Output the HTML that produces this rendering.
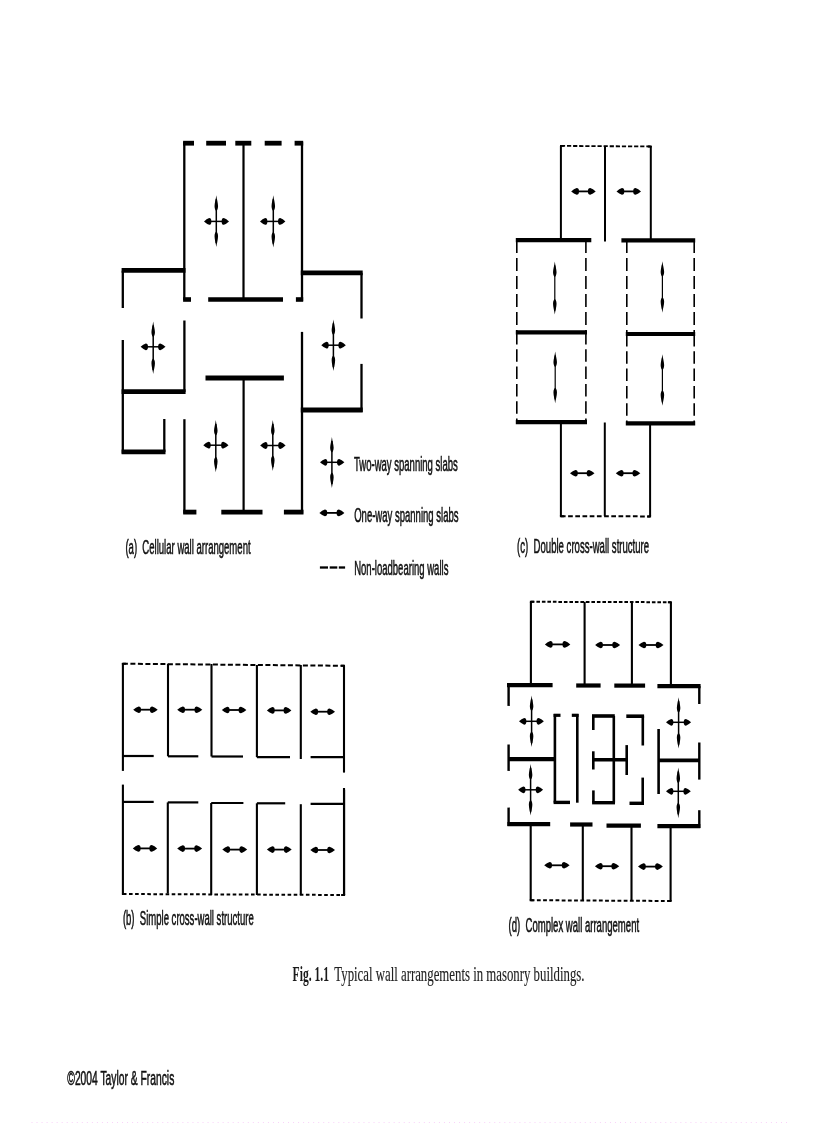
<!DOCTYPE html>
<html><head><meta charset="utf-8"><title>Fig 1.1</title>
<style>
html,body{margin:0;padding:0;background:#fff;}
body{width:816px;height:1123px;overflow:hidden;position:relative;font-family:"Liberation Sans",sans-serif;}
svg{position:absolute;left:0;top:0;will-change:transform;filter:blur(0.35px);}
line{stroke:#000;fill:none;}
.f{fill:#000;stroke:none;}
text{fill:#111;stroke:#111;stroke-width:0.6px;}
text.s{stroke:#222;stroke-width:0.15px;fill:#222;}
</style></head>
<body>
<svg width="816" height="1123" viewBox="0 0 816 1123">
<g>
<line x1="184.3" y1="142" x2="184.3" y2="300" stroke-width="2.3" stroke-linecap="butt"/>
<line x1="243.5" y1="143" x2="243.5" y2="299.5" stroke-width="2.2" stroke-linecap="butt"/>
<line x1="302" y1="142" x2="302" y2="301" stroke-width="2.3" stroke-linecap="butt"/>
<line x1="183.1" y1="143.2" x2="194" y2="143.2" stroke-width="4.8" stroke-linecap="butt"/>
<line x1="206.2" y1="143.2" x2="226" y2="143.2" stroke-width="4.8" stroke-linecap="butt"/>
<line x1="235.3" y1="143.2" x2="251.3" y2="143.2" stroke-width="4.8" stroke-linecap="butt"/>
<line x1="264.7" y1="143.2" x2="281.6" y2="143.2" stroke-width="4.8" stroke-linecap="butt"/>
<line x1="294.6" y1="143.2" x2="303.2" y2="143.2" stroke-width="4.8" stroke-linecap="butt"/>
<line x1="183.1" y1="299.5" x2="191" y2="299.5" stroke-width="4.6" stroke-linecap="butt"/>
<line x1="208.2" y1="299.5" x2="283" y2="299.5" stroke-width="4.6" stroke-linecap="butt"/>
<line x1="295.9" y1="299.5" x2="303.2" y2="299.5" stroke-width="4.6" stroke-linecap="butt"/>
<line x1="121.6" y1="270.4" x2="185.5" y2="270.4" stroke-width="4.8" stroke-linecap="butt"/>
<line x1="122.8" y1="270.7" x2="122.8" y2="308" stroke-width="2.3" stroke-linecap="butt"/>
<line x1="122.8" y1="340" x2="122.8" y2="453.5" stroke-width="2.3" stroke-linecap="butt"/>
<line x1="121.6" y1="391.7" x2="185.6" y2="391.7" stroke-width="4.8" stroke-linecap="butt"/>
<line x1="184.4" y1="320.5" x2="184.4" y2="392" stroke-width="2.3" stroke-linecap="butt"/>
<line x1="121.6" y1="451.8" x2="165.5" y2="451.8" stroke-width="4.8" stroke-linecap="butt"/>
<line x1="164.3" y1="419" x2="164.3" y2="452" stroke-width="2.3" stroke-linecap="butt"/>
<line x1="300.8" y1="272.8" x2="362.7" y2="272.8" stroke-width="4.8" stroke-linecap="butt"/>
<line x1="361.5" y1="272.8" x2="361.5" y2="318.5" stroke-width="2.3" stroke-linecap="butt"/>
<line x1="361.5" y1="363.9" x2="361.5" y2="412" stroke-width="2.3" stroke-linecap="butt"/>
<line x1="300.8" y1="410" x2="362.7" y2="410" stroke-width="4.8" stroke-linecap="butt"/>
<line x1="302" y1="331.9" x2="302" y2="513.5" stroke-width="2.3" stroke-linecap="butt"/>
<line x1="205.5" y1="378" x2="283.9" y2="378" stroke-width="4.8" stroke-linecap="butt"/>
<line x1="243.6" y1="378" x2="243.6" y2="511.8" stroke-width="2.2" stroke-linecap="butt"/>
<line x1="184.4" y1="419.2" x2="184.4" y2="513.5" stroke-width="2.3" stroke-linecap="butt"/>
<line x1="183.2" y1="512.1" x2="196.4" y2="512.1" stroke-width="4.8" stroke-linecap="butt"/>
<line x1="221.3" y1="512.1" x2="262.5" y2="512.1" stroke-width="4.8" stroke-linecap="butt"/>
<line x1="283.9" y1="512.1" x2="303.5" y2="512.1" stroke-width="4.8" stroke-linecap="butt"/>
<line x1="216.3" y1="199.3" x2="216.3" y2="243" stroke-width="1.5" stroke-linecap="butt"/>
<path class="f" d="M216.3 195.3 C216.74 199.18 218.05 203.05 218.05 206.15 C218.05 208.94 217 210.5 216.3 210.8 C215.6 210.5 214.55 208.94 214.55 206.15 C214.55 203.05 215.86 199.18 216.3 195.3Z"/>
<path class="f" d="M216.3 247 C216.74 243.12 218.05 239.25 218.05 236.15 C218.05 233.36 217 231.8 216.3 231.5 C215.6 231.8 214.55 233.36 214.55 236.15 C214.55 239.25 215.86 243.12 216.3 247Z"/>
<line x1="207" y1="221.4" x2="226" y2="221.4" stroke-width="1.5" stroke-linecap="butt"/>
<path class="f" d="M204 221.4 Q206.59 219.02 209.18 218 Q211.4 218 211.4 221.4 Q211.4 224.8 209.18 224.8 Q206.59 223.78 204 221.4Z"/>
<path class="f" d="M229 221.4 Q226.41 219.02 223.82 218 Q221.6 218 221.6 221.4 Q221.6 224.8 223.82 224.8 Q226.41 223.78 229 221.4Z"/>
<line x1="273.3" y1="199.3" x2="273.3" y2="243.6" stroke-width="1.5" stroke-linecap="butt"/>
<path class="f" d="M273.3 195.3 C273.74 199.18 275.05 203.05 275.05 206.15 C275.05 208.94 274 210.5 273.3 210.8 C272.6 210.5 271.55 208.94 271.55 206.15 C271.55 203.05 272.86 199.18 273.3 195.3Z"/>
<path class="f" d="M273.3 247.6 C273.74 243.72 275.05 239.85 275.05 236.75 C275.05 233.96 274 232.4 273.3 232.1 C272.6 232.4 271.55 233.96 271.55 236.75 C271.55 239.85 272.86 243.72 273.3 247.6Z"/>
<line x1="263" y1="221.4" x2="282.4" y2="221.4" stroke-width="1.5" stroke-linecap="butt"/>
<path class="f" d="M260 221.4 Q262.59 219.02 265.18 218 Q267.4 218 267.4 221.4 Q267.4 224.8 265.18 224.8 Q262.59 223.78 260 221.4Z"/>
<path class="f" d="M285.4 221.4 Q282.81 219.02 280.22 218 Q278 218 278 221.4 Q278 224.8 280.22 224.8 Q282.81 223.78 285.4 221.4Z"/>
<line x1="153.2" y1="325.4" x2="153.2" y2="370" stroke-width="1.5" stroke-linecap="butt"/>
<path class="f" d="M153.2 321.4 C153.64 325.27 154.95 329.15 154.95 332.25 C154.95 335.04 153.9 336.6 153.2 336.9 C152.5 336.6 151.45 335.04 151.45 332.25 C151.45 329.15 152.76 325.27 153.2 321.4Z"/>
<path class="f" d="M153.2 374 C153.64 370.12 154.95 366.25 154.95 363.15 C154.95 360.36 153.9 358.8 153.2 358.5 C152.5 358.8 151.45 360.36 151.45 363.15 C151.45 366.25 152.76 370.12 153.2 374Z"/>
<line x1="143.6" y1="346.8" x2="162.5" y2="346.8" stroke-width="1.5" stroke-linecap="butt"/>
<path class="f" d="M140.6 346.8 Q143.19 344.42 145.78 343.4 Q148 343.4 148 346.8 Q148 350.2 145.78 350.2 Q143.19 349.18 140.6 346.8Z"/>
<path class="f" d="M165.5 346.8 Q162.91 344.42 160.32 343.4 Q158.1 343.4 158.1 346.8 Q158.1 350.2 160.32 350.2 Q162.91 349.18 165.5 346.8Z"/>
<line x1="333.4" y1="323.4" x2="333.4" y2="367" stroke-width="1.5" stroke-linecap="butt"/>
<path class="f" d="M333.4 319.4 C333.84 323.27 335.15 327.15 335.15 330.25 C335.15 333.04 334.1 334.6 333.4 334.9 C332.7 334.6 331.65 333.04 331.65 330.25 C331.65 327.15 332.96 323.27 333.4 319.4Z"/>
<path class="f" d="M333.4 371 C333.84 367.12 335.15 363.25 335.15 360.15 C335.15 357.36 334.1 355.8 333.4 355.5 C332.7 355.8 331.65 357.36 331.65 360.15 C331.65 363.25 332.96 367.12 333.4 371Z"/>
<line x1="324.3" y1="345.2" x2="342.8" y2="345.2" stroke-width="1.5" stroke-linecap="butt"/>
<path class="f" d="M321.3 345.2 Q323.89 342.82 326.48 341.8 Q328.7 341.8 328.7 345.2 Q328.7 348.6 326.48 348.6 Q323.89 347.58 321.3 345.2Z"/>
<path class="f" d="M345.8 345.2 Q343.21 342.82 340.62 341.8 Q338.4 341.8 338.4 345.2 Q338.4 348.6 340.62 348.6 Q343.21 347.58 345.8 345.2Z"/>
<line x1="215.8" y1="424" x2="215.8" y2="468.3" stroke-width="1.5" stroke-linecap="butt"/>
<path class="f" d="M215.8 420 C216.24 423.88 217.55 427.75 217.55 430.85 C217.55 433.64 216.5 435.2 215.8 435.5 C215.1 435.2 214.05 433.64 214.05 430.85 C214.05 427.75 215.36 423.88 215.8 420Z"/>
<path class="f" d="M215.8 472.3 C216.24 468.43 217.55 464.55 217.55 461.45 C217.55 458.66 216.5 457.1 215.8 456.8 C215.1 457.1 214.05 458.66 214.05 461.45 C214.05 464.55 215.36 468.43 215.8 472.3Z"/>
<line x1="206.3" y1="445.2" x2="225.5" y2="445.2" stroke-width="1.5" stroke-linecap="butt"/>
<path class="f" d="M203.3 445.2 Q205.89 442.82 208.48 441.8 Q210.7 441.8 210.7 445.2 Q210.7 448.6 208.48 448.6 Q205.89 447.58 203.3 445.2Z"/>
<path class="f" d="M228.5 445.2 Q225.91 442.82 223.32 441.8 Q221.1 441.8 221.1 445.2 Q221.1 448.6 223.32 448.6 Q225.91 447.58 228.5 445.2Z"/>
<line x1="272.8" y1="424" x2="272.8" y2="467" stroke-width="1.5" stroke-linecap="butt"/>
<path class="f" d="M272.8 420 C273.24 423.88 274.55 427.75 274.55 430.85 C274.55 433.64 273.5 435.2 272.8 435.5 C272.1 435.2 271.05 433.64 271.05 430.85 C271.05 427.75 272.36 423.88 272.8 420Z"/>
<path class="f" d="M272.8 471 C273.24 467.12 274.55 463.25 274.55 460.15 C274.55 457.36 273.5 455.8 272.8 455.5 C272.1 455.8 271.05 457.36 271.05 460.15 C271.05 463.25 272.36 467.12 272.8 471Z"/>
<line x1="263.2" y1="445.5" x2="282.6" y2="445.5" stroke-width="1.5" stroke-linecap="butt"/>
<path class="f" d="M260.2 445.5 Q262.79 443.12 265.38 442.1 Q267.6 442.1 267.6 445.5 Q267.6 448.9 265.38 448.9 Q262.79 447.88 260.2 445.5Z"/>
<path class="f" d="M285.6 445.5 Q283.01 443.12 280.42 442.1 Q278.2 442.1 278.2 445.5 Q278.2 448.9 280.42 448.9 Q283.01 447.88 285.6 445.5Z"/>
<line x1="331.9" y1="441" x2="331.9" y2="484" stroke-width="1.5" stroke-linecap="butt"/>
<path class="f" d="M331.9 437 C332.34 440.88 333.65 444.75 333.65 447.85 C333.65 450.64 332.6 452.2 331.9 452.5 C331.2 452.2 330.15 450.64 330.15 447.85 C330.15 444.75 331.46 440.88 331.9 437Z"/>
<path class="f" d="M331.9 488 C332.34 484.12 333.65 480.25 333.65 477.15 C333.65 474.36 332.6 472.8 331.9 472.5 C331.2 472.8 330.15 474.36 330.15 477.15 C330.15 480.25 331.46 484.12 331.9 488Z"/>
<line x1="323" y1="462.3" x2="341.4" y2="462.3" stroke-width="1.5" stroke-linecap="butt"/>
<path class="f" d="M320 462.3 Q322.59 459.92 325.18 458.9 Q327.4 458.9 327.4 462.3 Q327.4 465.7 325.18 465.7 Q322.59 464.68 320 462.3Z"/>
<path class="f" d="M344.4 462.3 Q341.81 459.92 339.22 458.9 Q337 458.9 337 462.3 Q337 465.7 339.22 465.7 Q341.81 464.68 344.4 462.3Z"/>
<line x1="322.4" y1="512.9" x2="341.4" y2="512.9" stroke-width="1.8" stroke-linecap="butt"/>
<path class="f" d="M319.4 512.9 Q322.13 510.59 324.86 509.6 Q327.2 509.6 327.2 512.9 Q327.2 516.2 324.86 516.2 Q322.13 515.21 319.4 512.9Z"/>
<path class="f" d="M344.4 512.9 Q341.67 510.59 338.94 509.6 Q336.6 509.6 336.6 512.9 Q336.6 516.2 338.94 516.2 Q341.67 515.21 344.4 512.9Z"/>
<line x1="319.9" y1="567.5" x2="328" y2="567.5" stroke-width="2.3" stroke-linecap="butt"/>
<line x1="329.7" y1="567.5" x2="337.3" y2="567.5" stroke-width="2.3" stroke-linecap="butt"/>
<line x1="338.8" y1="567.5" x2="345.1" y2="567.5" stroke-width="2.3" stroke-linecap="butt"/>
<line x1="560.9" y1="146" x2="560.9" y2="240" stroke-width="2" stroke-linecap="butt"/>
<line x1="605" y1="146" x2="605" y2="241.6" stroke-width="2" stroke-linecap="butt"/>
<line x1="650.8" y1="146" x2="650.8" y2="240" stroke-width="2" stroke-linecap="butt"/>
<line x1="560.9" y1="145.9" x2="650.8" y2="146.5" stroke-width="1.8" stroke-dasharray="4.2 1.9" stroke-dashoffset="0"/>
<line x1="560" y1="145.89" x2="563.9" y2="145.92" stroke-width="1.8" stroke-linecap="butt"/>
<line x1="651.7" y1="146.51" x2="647.8" y2="146.48" stroke-width="1.8" stroke-linecap="butt"/>
<line x1="574.2" y1="191.4" x2="592.7" y2="191.4" stroke-width="1.8" stroke-linecap="butt"/>
<path class="f" d="M571.2 191.4 Q573.93 189.09 576.66 188.1 Q579 188.1 579 191.4 Q579 194.7 576.66 194.7 Q573.93 193.71 571.2 191.4Z"/>
<path class="f" d="M595.7 191.4 Q592.97 189.09 590.24 188.1 Q587.9 188.1 587.9 191.4 Q587.9 194.7 590.24 194.7 Q592.97 193.71 595.7 191.4Z"/>
<line x1="619.5" y1="191.4" x2="638" y2="191.4" stroke-width="1.8" stroke-linecap="butt"/>
<path class="f" d="M616.5 191.4 Q619.23 189.09 621.96 188.1 Q624.3 188.1 624.3 191.4 Q624.3 194.7 621.96 194.7 Q619.23 193.71 616.5 191.4Z"/>
<path class="f" d="M641 191.4 Q638.27 189.09 635.54 188.1 Q633.2 188.1 633.2 191.4 Q633.2 194.7 635.54 194.7 Q638.27 193.71 641 191.4Z"/>
<line x1="515.8" y1="240.1" x2="591.3" y2="240.1" stroke-width="4.2" stroke-linecap="butt"/>
<line x1="621.4" y1="240.3" x2="695.2" y2="240.3" stroke-width="4.2" stroke-linecap="butt"/>
<line x1="516.8" y1="240" x2="516.8" y2="332" stroke-width="1.6" stroke-dasharray="13 5" stroke-dashoffset="0"/>
<line x1="516.8" y1="332" x2="516.8" y2="422" stroke-width="1.6" stroke-dasharray="12.5 4.8" stroke-dashoffset="0"/>
<line x1="585.9" y1="240" x2="585.9" y2="332" stroke-width="1.6" stroke-dasharray="13 5" stroke-dashoffset="0"/>
<line x1="585.9" y1="332" x2="585.9" y2="422" stroke-width="1.6" stroke-dasharray="12.5 4.8" stroke-dashoffset="0"/>
<line x1="626.8" y1="240" x2="626.8" y2="334" stroke-width="1.6" stroke-dasharray="13 5" stroke-dashoffset="0"/>
<line x1="626.8" y1="334" x2="626.8" y2="423.4" stroke-width="1.6" stroke-dasharray="12.5 4.8" stroke-dashoffset="0"/>
<line x1="694.2" y1="240" x2="694.2" y2="334" stroke-width="1.6" stroke-dasharray="13 5" stroke-dashoffset="0"/>
<line x1="694.2" y1="334" x2="694.2" y2="423.4" stroke-width="1.6" stroke-dasharray="12.5 4.8" stroke-dashoffset="0"/>
<line x1="515.8" y1="332.3" x2="587" y2="332.3" stroke-width="4.2" stroke-linecap="butt"/>
<line x1="625.8" y1="334" x2="695.2" y2="334" stroke-width="4.2" stroke-linecap="butt"/>
<line x1="515.8" y1="422.2" x2="587" y2="422.2" stroke-width="4.2" stroke-linecap="butt"/>
<line x1="625.8" y1="423.4" x2="695.2" y2="423.4" stroke-width="4.2" stroke-linecap="butt"/>
<line x1="554.8" y1="265.4" x2="554.8" y2="310.6" stroke-width="1.2" stroke-linecap="butt"/>
<path class="f" d="M554.8 261.4 C555.24 265.27 556.55 269.15 556.55 272.25 C556.55 275.04 555.5 276.6 554.8 276.9 C554.1 276.6 553.05 275.04 553.05 272.25 C553.05 269.15 554.36 265.27 554.8 261.4Z"/>
<path class="f" d="M554.8 314.6 C555.24 310.73 556.55 306.85 556.55 303.75 C556.55 300.96 555.5 299.4 554.8 299.1 C554.1 299.4 553.05 300.96 553.05 303.75 C553.05 306.85 554.36 310.73 554.8 314.6Z"/>
<line x1="662.4" y1="265.2" x2="662.4" y2="308.7" stroke-width="1.2" stroke-linecap="butt"/>
<path class="f" d="M662.4 261.2 C662.84 265.07 664.15 268.95 664.15 272.05 C664.15 274.84 663.1 276.4 662.4 276.7 C661.7 276.4 660.65 274.84 660.65 272.05 C660.65 268.95 661.96 265.07 662.4 261.2Z"/>
<path class="f" d="M662.4 312.7 C662.84 308.82 664.15 304.95 664.15 301.85 C664.15 299.06 663.1 297.5 662.4 297.2 C661.7 297.5 660.65 299.06 660.65 301.85 C660.65 304.95 661.96 308.82 662.4 312.7Z"/>
<line x1="555.2" y1="355.4" x2="555.2" y2="399.3" stroke-width="1.2" stroke-linecap="butt"/>
<path class="f" d="M555.2 351.4 C555.64 355.27 556.95 359.15 556.95 362.25 C556.95 365.04 555.9 366.6 555.2 366.9 C554.5 366.6 553.45 365.04 553.45 362.25 C553.45 359.15 554.76 355.27 555.2 351.4Z"/>
<path class="f" d="M555.2 403.3 C555.64 399.43 556.95 395.55 556.95 392.45 C556.95 389.66 555.9 388.1 555.2 387.8 C554.5 388.1 553.45 389.66 553.45 392.45 C553.45 395.55 554.76 399.43 555.2 403.3Z"/>
<line x1="662.4" y1="358.3" x2="662.4" y2="401.8" stroke-width="1.2" stroke-linecap="butt"/>
<path class="f" d="M662.4 354.3 C662.84 358.18 664.15 362.05 664.15 365.15 C664.15 367.94 663.1 369.5 662.4 369.8 C661.7 369.5 660.65 367.94 660.65 365.15 C660.65 362.05 661.96 358.18 662.4 354.3Z"/>
<path class="f" d="M662.4 405.8 C662.84 401.93 664.15 398.05 664.15 394.95 C664.15 392.16 663.1 390.6 662.4 390.3 C661.7 390.6 660.65 392.16 660.65 394.95 C660.65 398.05 661.96 401.93 662.4 405.8Z"/>
<line x1="560.9" y1="422" x2="560.9" y2="516" stroke-width="2" stroke-linecap="butt"/>
<line x1="604.8" y1="422.5" x2="604.8" y2="516" stroke-width="2" stroke-linecap="butt"/>
<line x1="650.1" y1="423" x2="650.1" y2="516" stroke-width="2" stroke-linecap="butt"/>
<line x1="560.9" y1="516.2" x2="650.1" y2="516.4" stroke-width="2" stroke-dasharray="4.7 2.5" stroke-dashoffset="0"/>
<line x1="559.9" y1="516.2" x2="563.9" y2="516.21" stroke-width="2" stroke-linecap="butt"/>
<line x1="651.1" y1="516.4" x2="647.1" y2="516.39" stroke-width="2" stroke-linecap="butt"/>
<line x1="573" y1="473.2" x2="591.5" y2="473.2" stroke-width="1.8" stroke-linecap="butt"/>
<path class="f" d="M570 473.2 Q572.73 470.89 575.46 469.9 Q577.8 469.9 577.8 473.2 Q577.8 476.5 575.46 476.5 Q572.73 475.51 570 473.2Z"/>
<path class="f" d="M594.5 473.2 Q591.77 470.89 589.04 469.9 Q586.7 469.9 586.7 473.2 Q586.7 476.5 589.04 476.5 Q591.77 475.51 594.5 473.2Z"/>
<line x1="618.8" y1="473.2" x2="637.3" y2="473.2" stroke-width="1.8" stroke-linecap="butt"/>
<path class="f" d="M615.8 473.2 Q618.53 470.89 621.26 469.9 Q623.6 469.9 623.6 473.2 Q623.6 476.5 621.26 476.5 Q618.53 475.51 615.8 473.2Z"/>
<path class="f" d="M640.3 473.2 Q637.57 470.89 634.84 469.9 Q632.5 469.9 632.5 473.2 Q632.5 476.5 634.84 476.5 Q637.57 475.51 640.3 473.2Z"/>
<line x1="122.9" y1="663.7" x2="344" y2="665.8" stroke-width="2" stroke-dasharray="5 2.5" stroke-dashoffset="0"/>
<line x1="121.9" y1="663.69" x2="125.9" y2="663.73" stroke-width="2" stroke-linecap="butt"/>
<line x1="345" y1="665.81" x2="341" y2="665.77" stroke-width="2" stroke-linecap="butt"/>
<line x1="122.9" y1="663" x2="122.9" y2="770.9" stroke-width="2.1" stroke-linecap="butt"/>
<line x1="122.9" y1="784.6" x2="122.9" y2="893.4" stroke-width="2.1" stroke-linecap="butt"/>
<line x1="168" y1="663.7" x2="168" y2="756.3" stroke-width="2.1" stroke-linecap="butt"/>
<line x1="168" y1="756.3" x2="198.3" y2="756.3" stroke-width="2.2" stroke-linecap="butt"/>
<line x1="211.5" y1="664" x2="211.5" y2="756.5" stroke-width="2.1" stroke-linecap="butt"/>
<line x1="211.5" y1="756.5" x2="243" y2="756.5" stroke-width="2.2" stroke-linecap="butt"/>
<line x1="256.9" y1="665" x2="256.9" y2="757.2" stroke-width="2.1" stroke-linecap="butt"/>
<line x1="256.9" y1="757.2" x2="290" y2="757.2" stroke-width="2.2" stroke-linecap="butt"/>
<line x1="300.8" y1="665" x2="300.8" y2="759" stroke-width="2.1" stroke-linecap="butt"/>
<line x1="344" y1="665.8" x2="344" y2="772.6" stroke-width="2.1" stroke-linecap="butt"/>
<line x1="344" y1="788" x2="344" y2="895" stroke-width="2.1" stroke-linecap="butt"/>
<line x1="122.9" y1="756" x2="153.7" y2="756" stroke-width="2.2" stroke-linecap="butt"/>
<line x1="310.6" y1="757.2" x2="344" y2="757.2" stroke-width="2.2" stroke-linecap="butt"/>
<line x1="136.2" y1="709.7" x2="154.7" y2="709.7" stroke-width="1.8" stroke-linecap="butt"/>
<path class="f" d="M133.2 709.7 Q135.93 707.39 138.66 706.4 Q141 706.4 141 709.7 Q141 713 138.66 713 Q135.93 712.01 133.2 709.7Z"/>
<path class="f" d="M157.7 709.7 Q154.97 707.39 152.24 706.4 Q149.9 706.4 149.9 709.7 Q149.9 713 152.24 713 Q154.97 712.01 157.7 709.7Z"/>
<line x1="180.2" y1="709.7" x2="199.3" y2="709.7" stroke-width="1.8" stroke-linecap="butt"/>
<path class="f" d="M177.2 709.7 Q179.93 707.39 182.66 706.4 Q185 706.4 185 709.7 Q185 713 182.66 713 Q179.93 712.01 177.2 709.7Z"/>
<path class="f" d="M202.3 709.7 Q199.57 707.39 196.84 706.4 Q194.5 706.4 194.5 709.7 Q194.5 713 196.84 713 Q199.57 712.01 202.3 709.7Z"/>
<line x1="224.8" y1="710" x2="243.4" y2="710" stroke-width="1.8" stroke-linecap="butt"/>
<path class="f" d="M221.8 710 Q224.53 707.69 227.26 706.7 Q229.6 706.7 229.6 710 Q229.6 713.3 227.26 713.3 Q224.53 712.31 221.8 710Z"/>
<path class="f" d="M246.4 710 Q243.67 707.69 240.94 706.7 Q238.6 706.7 238.6 710 Q238.6 713.3 240.94 713.3 Q243.67 712.31 246.4 710Z"/>
<line x1="269.9" y1="710.4" x2="288.4" y2="710.4" stroke-width="1.8" stroke-linecap="butt"/>
<path class="f" d="M266.9 710.4 Q269.63 708.09 272.36 707.1 Q274.7 707.1 274.7 710.4 Q274.7 713.7 272.36 713.7 Q269.63 712.71 266.9 710.4Z"/>
<path class="f" d="M291.4 710.4 Q288.67 708.09 285.94 707.1 Q283.6 707.1 283.6 710.4 Q283.6 713.7 285.94 713.7 Q288.67 712.71 291.4 710.4Z"/>
<line x1="313.3" y1="711.7" x2="332" y2="711.7" stroke-width="1.8" stroke-linecap="butt"/>
<path class="f" d="M310.3 711.7 Q313.03 709.39 315.76 708.4 Q318.1 708.4 318.1 711.7 Q318.1 715 315.76 715 Q313.03 714.01 310.3 711.7Z"/>
<path class="f" d="M335 711.7 Q332.27 709.39 329.54 708.4 Q327.2 708.4 327.2 711.7 Q327.2 715 329.54 715 Q332.27 714.01 335 711.7Z"/>
<line x1="122.9" y1="801.9" x2="153.7" y2="801.9" stroke-width="2.2" stroke-linecap="butt"/>
<line x1="167.8" y1="802.4" x2="167.8" y2="893.4" stroke-width="2.1" stroke-linecap="butt"/>
<line x1="167.8" y1="802.4" x2="198.3" y2="802.4" stroke-width="2.2" stroke-linecap="butt"/>
<line x1="211.2" y1="803" x2="211.2" y2="895" stroke-width="2.1" stroke-linecap="butt"/>
<line x1="211.2" y1="803" x2="243.4" y2="803" stroke-width="2.2" stroke-linecap="butt"/>
<line x1="256.9" y1="803.3" x2="256.9" y2="895" stroke-width="2.1" stroke-linecap="butt"/>
<line x1="256.9" y1="803.3" x2="285.2" y2="803.3" stroke-width="2.2" stroke-linecap="butt"/>
<line x1="300.8" y1="804.2" x2="300.8" y2="895" stroke-width="2.1" stroke-linecap="butt"/>
<line x1="344.1" y1="789.6" x2="344.1" y2="895" stroke-width="2.1" stroke-linecap="butt"/>
<line x1="310.6" y1="803.8" x2="344.1" y2="803.8" stroke-width="2.2" stroke-linecap="butt"/>
<line x1="122.9" y1="894" x2="344.1" y2="895" stroke-width="2" stroke-dasharray="3.6 2.5" stroke-dashoffset="0"/>
<line x1="121.9" y1="894" x2="125.9" y2="894.01" stroke-width="2" stroke-linecap="butt"/>
<line x1="345.1" y1="895" x2="341.1" y2="894.99" stroke-width="2" stroke-linecap="butt"/>
<line x1="135.8" y1="848.4" x2="154.2" y2="848.4" stroke-width="1.8" stroke-linecap="butt"/>
<path class="f" d="M132.8 848.4 Q135.53 846.09 138.26 845.1 Q140.6 845.1 140.6 848.4 Q140.6 851.7 138.26 851.7 Q135.53 850.71 132.8 848.4Z"/>
<path class="f" d="M157.2 848.4 Q154.47 846.09 151.74 845.1 Q149.4 845.1 149.4 848.4 Q149.4 851.7 151.74 851.7 Q154.47 850.71 157.2 848.4Z"/>
<line x1="180.2" y1="848.6" x2="199.1" y2="848.6" stroke-width="1.8" stroke-linecap="butt"/>
<path class="f" d="M177.2 848.6 Q179.93 846.29 182.66 845.3 Q185 845.3 185 848.6 Q185 851.9 182.66 851.9 Q179.93 850.91 177.2 848.6Z"/>
<path class="f" d="M202.1 848.6 Q199.37 846.29 196.64 845.3 Q194.3 845.3 194.3 848.6 Q194.3 851.9 196.64 851.9 Q199.37 850.91 202.1 848.6Z"/>
<line x1="225.3" y1="849.6" x2="244.2" y2="849.6" stroke-width="1.8" stroke-linecap="butt"/>
<path class="f" d="M222.3 849.6 Q225.03 847.29 227.76 846.3 Q230.1 846.3 230.1 849.6 Q230.1 852.9 227.76 852.9 Q225.03 851.91 222.3 849.6Z"/>
<path class="f" d="M247.2 849.6 Q244.47 847.29 241.74 846.3 Q239.4 846.3 239.4 849.6 Q239.4 852.9 241.74 852.9 Q244.47 851.91 247.2 849.6Z"/>
<line x1="269.9" y1="849.6" x2="288.7" y2="849.6" stroke-width="1.8" stroke-linecap="butt"/>
<path class="f" d="M266.9 849.6 Q269.63 847.29 272.36 846.3 Q274.7 846.3 274.7 849.6 Q274.7 852.9 272.36 852.9 Q269.63 851.91 266.9 849.6Z"/>
<path class="f" d="M291.7 849.6 Q288.97 847.29 286.24 846.3 Q283.9 846.3 283.9 849.6 Q283.9 852.9 286.24 852.9 Q288.97 851.91 291.7 849.6Z"/>
<line x1="313.3" y1="850" x2="332" y2="850" stroke-width="1.8" stroke-linecap="butt"/>
<path class="f" d="M310.3 850 Q313.03 847.69 315.76 846.7 Q318.1 846.7 318.1 850 Q318.1 853.3 315.76 853.3 Q313.03 852.31 310.3 850Z"/>
<path class="f" d="M335 850 Q332.27 847.69 329.54 846.7 Q327.2 846.7 327.2 850 Q327.2 853.3 329.54 853.3 Q332.27 852.31 335 850Z"/>
<line x1="530.9" y1="601.8" x2="670.9" y2="602.2" stroke-width="2" stroke-dasharray="3.6 1.9" stroke-dashoffset="0"/>
<line x1="529.9" y1="601.8" x2="533.9" y2="601.81" stroke-width="2" stroke-linecap="butt"/>
<line x1="671.9" y1="602.2" x2="667.9" y2="602.19" stroke-width="2" stroke-linecap="butt"/>
<line x1="530.9" y1="601.8" x2="530.9" y2="685" stroke-width="2.1" stroke-linecap="butt"/>
<line x1="584.6" y1="601.8" x2="584.6" y2="685" stroke-width="2.1" stroke-linecap="butt"/>
<line x1="631.9" y1="602" x2="631.9" y2="685" stroke-width="2.1" stroke-linecap="butt"/>
<line x1="670.9" y1="602" x2="670.9" y2="686" stroke-width="2.1" stroke-linecap="butt"/>
<line x1="547.9" y1="644.4" x2="567.3" y2="644.4" stroke-width="1.8" stroke-linecap="butt"/>
<path class="f" d="M544.9 644.4 Q547.63 642.09 550.36 641.1 Q552.7 641.1 552.7 644.4 Q552.7 647.7 550.36 647.7 Q547.63 646.71 544.9 644.4Z"/>
<path class="f" d="M570.3 644.4 Q567.57 642.09 564.84 641.1 Q562.5 641.1 562.5 644.4 Q562.5 647.7 564.84 647.7 Q567.57 646.71 570.3 644.4Z"/>
<line x1="598.1" y1="645" x2="617.1" y2="645" stroke-width="1.8" stroke-linecap="butt"/>
<path class="f" d="M595.1 645 Q597.83 642.69 600.56 641.7 Q602.9 641.7 602.9 645 Q602.9 648.3 600.56 648.3 Q597.83 647.31 595.1 645Z"/>
<path class="f" d="M620.1 645 Q617.37 642.69 614.64 641.7 Q612.3 641.7 612.3 645 Q612.3 648.3 614.64 648.3 Q617.37 647.31 620.1 645Z"/>
<line x1="641.5" y1="645" x2="660.5" y2="645" stroke-width="1.8" stroke-linecap="butt"/>
<path class="f" d="M638.5 645 Q641.23 642.69 643.96 641.7 Q646.3 641.7 646.3 645 Q646.3 648.3 643.96 648.3 Q641.23 647.31 638.5 645Z"/>
<path class="f" d="M663.5 645 Q660.77 642.69 658.04 641.7 Q655.7 641.7 655.7 645 Q655.7 648.3 658.04 648.3 Q660.77 647.31 663.5 645Z"/>
<line x1="507" y1="685.2" x2="552.6" y2="685.2" stroke-width="4.2" stroke-linecap="butt"/>
<line x1="576.2" y1="685.5" x2="600.6" y2="685.5" stroke-width="4.2" stroke-linecap="butt"/>
<line x1="614.3" y1="685.6" x2="645.1" y2="685.6" stroke-width="4.2" stroke-linecap="butt"/>
<line x1="657.4" y1="686.2" x2="700.6" y2="686.2" stroke-width="4.2" stroke-linecap="butt"/>
<line x1="508.6" y1="684" x2="508.6" y2="705.9" stroke-width="2.4" stroke-linecap="butt"/>
<line x1="508.6" y1="744.5" x2="508.6" y2="770.9" stroke-width="2.4" stroke-linecap="butt"/>
<line x1="508.6" y1="807.6" x2="508.6" y2="826" stroke-width="2.4" stroke-linecap="butt"/>
<line x1="699.3" y1="686" x2="699.3" y2="704" stroke-width="2.4" stroke-linecap="butt"/>
<line x1="699.3" y1="742.5" x2="699.3" y2="779.6" stroke-width="2.4" stroke-linecap="butt"/>
<line x1="699.3" y1="810.2" x2="699.3" y2="828" stroke-width="2.4" stroke-linecap="butt"/>
<line x1="508.6" y1="759.2" x2="554.5" y2="759.2" stroke-width="4.2" stroke-linecap="butt"/>
<line x1="658.6" y1="760.4" x2="699.3" y2="760.4" stroke-width="3.6" stroke-linecap="butt"/>
<line x1="554.9" y1="714" x2="554.9" y2="802.7" stroke-width="2.6" stroke-linecap="butt"/>
<line x1="553.6" y1="715.3" x2="560.5" y2="715.3" stroke-width="3.2" stroke-linecap="butt"/>
<line x1="553.6" y1="802.4" x2="570" y2="802.4" stroke-width="3.4" stroke-linecap="butt"/>
<line x1="577.3" y1="714" x2="577.3" y2="802.7" stroke-width="2.6" stroke-linecap="butt"/>
<line x1="571.8" y1="715.3" x2="578.6" y2="715.3" stroke-width="3.2" stroke-linecap="butt"/>
<line x1="592" y1="716" x2="614.8" y2="716" stroke-width="3.6" stroke-linecap="butt"/>
<line x1="593.3" y1="716" x2="593.3" y2="730" stroke-width="2.6" stroke-linecap="butt"/>
<line x1="613.8" y1="716" x2="613.8" y2="802.7" stroke-width="2.6" stroke-linecap="butt"/>
<line x1="593.3" y1="759.8" x2="626.6" y2="759.8" stroke-width="3.4" stroke-linecap="butt"/>
<line x1="593.3" y1="751.3" x2="593.3" y2="769.5" stroke-width="2.6" stroke-linecap="butt"/>
<line x1="626.7" y1="745.1" x2="626.7" y2="775" stroke-width="2.6" stroke-linecap="butt"/>
<line x1="593.4" y1="790.4" x2="593.4" y2="802.7" stroke-width="2.6" stroke-linecap="butt"/>
<line x1="592.1" y1="802.7" x2="615" y2="802.7" stroke-width="3.4" stroke-linecap="butt"/>
<line x1="626.3" y1="716.2" x2="644.1" y2="716.2" stroke-width="3.6" stroke-linecap="butt"/>
<line x1="642.8" y1="716" x2="642.8" y2="745.5" stroke-width="2.6" stroke-linecap="butt"/>
<line x1="642.7" y1="777.6" x2="642.7" y2="803.7" stroke-width="2.6" stroke-linecap="butt"/>
<line x1="629.5" y1="803.3" x2="644" y2="803.3" stroke-width="3.4" stroke-linecap="butt"/>
<line x1="658.6" y1="729" x2="658.6" y2="794" stroke-width="2.6" stroke-linecap="butt"/>
<line x1="531.6" y1="699.5" x2="531.6" y2="743" stroke-width="1.5" stroke-linecap="butt"/>
<path class="f" d="M531.6 695.5 C532.04 699.38 533.35 703.25 533.35 706.35 C533.35 709.14 532.3 710.7 531.6 711 C530.9 710.7 529.85 709.14 529.85 706.35 C529.85 703.25 531.16 699.38 531.6 695.5Z"/>
<path class="f" d="M531.6 747 C532.04 743.12 533.35 739.25 533.35 736.15 C533.35 733.36 532.3 731.8 531.6 731.5 C530.9 731.8 529.85 733.36 529.85 736.15 C529.85 739.25 531.16 743.12 531.6 747Z"/>
<line x1="522" y1="721.3" x2="540.9" y2="721.3" stroke-width="1.5" stroke-linecap="butt"/>
<path class="f" d="M519 721.3 Q521.59 718.92 524.18 717.9 Q526.4 717.9 526.4 721.3 Q526.4 724.7 524.18 724.7 Q521.59 723.68 519 721.3Z"/>
<path class="f" d="M543.9 721.3 Q541.31 718.92 538.72 717.9 Q536.5 717.9 536.5 721.3 Q536.5 724.7 538.72 724.7 Q541.31 723.68 543.9 721.3Z"/>
<line x1="530.6" y1="768.1" x2="530.6" y2="811.6" stroke-width="1.5" stroke-linecap="butt"/>
<path class="f" d="M530.6 764.1 C531.04 767.98 532.35 771.85 532.35 774.95 C532.35 777.74 531.3 779.3 530.6 779.6 C529.9 779.3 528.85 777.74 528.85 774.95 C528.85 771.85 530.16 767.98 530.6 764.1Z"/>
<path class="f" d="M530.6 815.6 C531.04 811.73 532.35 807.85 532.35 804.75 C532.35 801.96 531.3 800.4 530.6 800.1 C529.9 800.4 528.85 801.96 528.85 804.75 C528.85 807.85 530.16 811.73 530.6 815.6Z"/>
<line x1="521.1" y1="789.8" x2="540.1" y2="789.8" stroke-width="1.5" stroke-linecap="butt"/>
<path class="f" d="M518.1 789.8 Q520.69 787.42 523.28 786.4 Q525.5 786.4 525.5 789.8 Q525.5 793.2 523.28 793.2 Q520.69 792.18 518.1 789.8Z"/>
<path class="f" d="M543.1 789.8 Q540.51 787.42 537.92 786.4 Q535.7 786.4 535.7 789.8 Q535.7 793.2 537.92 793.2 Q540.51 792.18 543.1 789.8Z"/>
<line x1="678.6" y1="701.2" x2="678.6" y2="744.6" stroke-width="1.5" stroke-linecap="butt"/>
<path class="f" d="M678.6 697.2 C679.04 701.08 680.35 704.95 680.35 708.05 C680.35 710.84 679.3 712.4 678.6 712.7 C677.9 712.4 676.85 710.84 676.85 708.05 C676.85 704.95 678.16 701.08 678.6 697.2Z"/>
<path class="f" d="M678.6 748.6 C679.04 744.73 680.35 740.85 680.35 737.75 C680.35 734.96 679.3 733.4 678.6 733.1 C677.9 733.4 676.85 734.96 676.85 737.75 C676.85 740.85 678.16 744.73 678.6 748.6Z"/>
<line x1="669" y1="722.3" x2="688.1" y2="722.3" stroke-width="1.5" stroke-linecap="butt"/>
<path class="f" d="M666 722.3 Q668.59 719.92 671.18 718.9 Q673.4 718.9 673.4 722.3 Q673.4 725.7 671.18 725.7 Q668.59 724.68 666 722.3Z"/>
<path class="f" d="M691.1 722.3 Q688.51 719.92 685.92 718.9 Q683.7 718.9 683.7 722.3 Q683.7 725.7 685.92 725.7 Q688.51 724.68 691.1 722.3Z"/>
<line x1="678.3" y1="771.6" x2="678.3" y2="814.2" stroke-width="1.5" stroke-linecap="butt"/>
<path class="f" d="M678.3 767.6 C678.74 771.48 680.05 775.35 680.05 778.45 C680.05 781.24 679 782.8 678.3 783.1 C677.6 782.8 676.55 781.24 676.55 778.45 C676.55 775.35 677.86 771.48 678.3 767.6Z"/>
<path class="f" d="M678.3 818.2 C678.74 814.33 680.05 810.45 680.05 807.35 C680.05 804.56 679 803 678.3 802.7 C677.6 803 676.55 804.56 676.55 807.35 C676.55 810.45 677.86 814.33 678.3 818.2Z"/>
<line x1="669" y1="791.3" x2="687.8" y2="791.3" stroke-width="1.5" stroke-linecap="butt"/>
<path class="f" d="M666 791.3 Q668.59 788.92 671.18 787.9 Q673.4 787.9 673.4 791.3 Q673.4 794.7 671.18 794.7 Q668.59 793.68 666 791.3Z"/>
<path class="f" d="M690.8 791.3 Q688.21 788.92 685.62 787.9 Q683.4 787.9 683.4 791.3 Q683.4 794.7 685.62 794.7 Q688.21 793.68 690.8 791.3Z"/>
<line x1="507.4" y1="824.1" x2="550.2" y2="824.1" stroke-width="4.2" stroke-linecap="butt"/>
<line x1="570.1" y1="824.5" x2="592.5" y2="824.5" stroke-width="4.2" stroke-linecap="butt"/>
<line x1="606.5" y1="825.7" x2="640.9" y2="825.7" stroke-width="4.2" stroke-linecap="butt"/>
<line x1="657.4" y1="826.2" x2="700.3" y2="826.2" stroke-width="4.2" stroke-linecap="butt"/>
<line x1="530.7" y1="824" x2="530.7" y2="900.5" stroke-width="2.1" stroke-linecap="butt"/>
<line x1="582.8" y1="824" x2="582.8" y2="900.5" stroke-width="2.1" stroke-linecap="butt"/>
<line x1="631.5" y1="825.7" x2="631.5" y2="901" stroke-width="2.1" stroke-linecap="butt"/>
<line x1="670.6" y1="826" x2="670.6" y2="901.2" stroke-width="2.1" stroke-linecap="butt"/>
<line x1="530.7" y1="900.2" x2="670.6" y2="901" stroke-width="2" stroke-dasharray="3.8 2.4" stroke-dashoffset="0"/>
<line x1="529.7" y1="900.19" x2="533.7" y2="900.22" stroke-width="2" stroke-linecap="butt"/>
<line x1="671.6" y1="901.01" x2="667.6" y2="900.98" stroke-width="2" stroke-linecap="butt"/>
<line x1="547.2" y1="865.3" x2="566.6" y2="865.3" stroke-width="1.8" stroke-linecap="butt"/>
<path class="f" d="M544.2 865.3 Q546.93 862.99 549.66 862 Q552 862 552 865.3 Q552 868.6 549.66 868.6 Q546.93 867.61 544.2 865.3Z"/>
<path class="f" d="M569.6 865.3 Q566.87 862.99 564.14 862 Q561.8 862 561.8 865.3 Q561.8 868.6 564.14 868.6 Q566.87 867.61 569.6 865.3Z"/>
<line x1="597.9" y1="866.2" x2="616.2" y2="866.2" stroke-width="1.8" stroke-linecap="butt"/>
<path class="f" d="M594.9 866.2 Q597.63 863.89 600.36 862.9 Q602.7 862.9 602.7 866.2 Q602.7 869.5 600.36 869.5 Q597.63 868.51 594.9 866.2Z"/>
<path class="f" d="M619.2 866.2 Q616.47 863.89 613.74 862.9 Q611.4 862.9 611.4 866.2 Q611.4 869.5 613.74 869.5 Q616.47 868.51 619.2 866.2Z"/>
<line x1="641" y1="866.6" x2="659.9" y2="866.6" stroke-width="1.8" stroke-linecap="butt"/>
<path class="f" d="M638 866.6 Q640.73 864.29 643.46 863.3 Q645.8 863.3 645.8 866.6 Q645.8 869.9 643.46 869.9 Q640.73 868.91 638 866.6Z"/>
<path class="f" d="M662.9 866.6 Q660.17 864.29 657.44 863.3 Q655.1 863.3 655.1 866.6 Q655.1 869.9 657.44 869.9 Q660.17 868.91 662.9 866.6Z"/>
</g>
<g>
<text x="354" y="471.4" font-family="Liberation Sans" font-size="20" font-weight="normal" textLength="103.8" lengthAdjust="spacingAndGlyphs">Two-way spanning slabs</text>
<text x="354.2" y="522.3" font-family="Liberation Sans" font-size="20" font-weight="normal" textLength="104.3" lengthAdjust="spacingAndGlyphs">One-way spanning slabs</text>
<text x="354.2" y="574.6" font-family="Liberation Sans" font-size="20" font-weight="normal" textLength="94.2" lengthAdjust="spacingAndGlyphs">Non-loadbearing walls</text>
<text x="125.4" y="553.6" font-family="Liberation Sans" font-size="20" font-weight="normal" textLength="125.2" lengthAdjust="spacingAndGlyphs">(a)&#160; Cellular wall arrangement</text>
<text x="517.1" y="552.7" font-family="Liberation Sans" font-size="20" font-weight="normal" textLength="132" lengthAdjust="spacingAndGlyphs">(c)&#160; Double cross-wall structure</text>
<text x="122.9" y="925.3" font-family="Liberation Sans" font-size="20" font-weight="normal" textLength="130.8" lengthAdjust="spacingAndGlyphs">(b)&#160; Simple cross-wall structure</text>
<text x="508.5" y="931.9" font-family="Liberation Sans" font-size="20" font-weight="normal" textLength="130.6" lengthAdjust="spacingAndGlyphs">(d)&#160; Complex wall arrangement</text>
<text x="67.3" y="1085.3" font-family="Liberation Sans" font-size="20" font-weight="normal" textLength="107" lengthAdjust="spacingAndGlyphs">&#169;2004 Taylor &amp; Francis</text>
<text class="s" x="292.6" y="981.3" font-family="Liberation Serif" font-size="22" font-weight="bold" textLength="36.4" lengthAdjust="spacingAndGlyphs" style="stroke-width:0;fill:#1a1a1a">Fig. 1.1</text>
<text class="s" x="334.3" y="981.3" font-family="Liberation Serif" font-size="22" textLength="250.2" lengthAdjust="spacingAndGlyphs">Typical wall arrangements in masonry buildings.</text>
</g>
<line x1="31.5" y1="1122.5" x2="787" y2="1122.5" stroke="#f9d2f9" stroke-width="1" stroke-dasharray="1 4.03" style="stroke:#f9d2f9"/>
</svg>
</body></html>
